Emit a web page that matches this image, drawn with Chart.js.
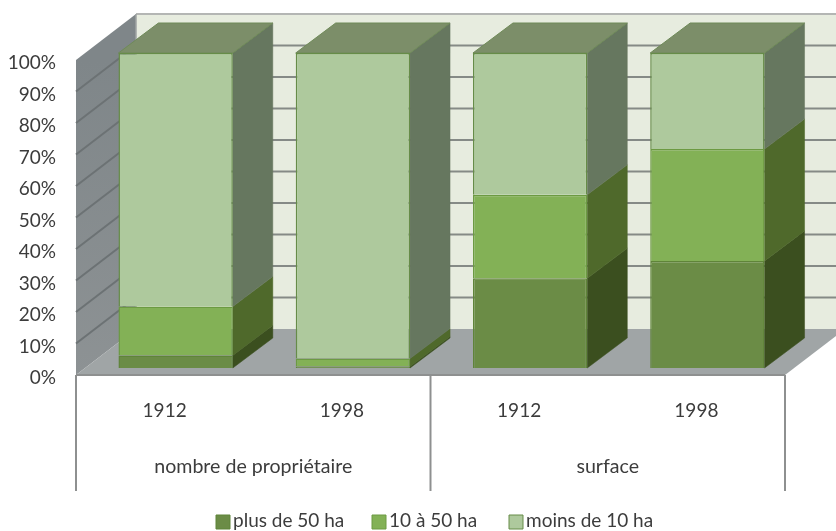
<!DOCTYPE html>
<html><head><meta charset="utf-8">
<style>html,body{margin:0;padding:0;background:#fff}canvas{display:block;filter:blur(0.4px)}</style>
<script src="https://cdn.jsdelivr.net/npm/chart.js@4"></script>
</head><body>
<canvas id="c" width="836" height="531"></canvas>
<script>
const categories = ['1912','1998','1912','1998'];
const groups = ['nombre de propriétaire','surface'];
const plus50 = [4, 0.5, 28.5, 34];
const de10a50 = [15.5, 2.5, 26.5, 35.5];
const moins10 = [80.5, 97, 45, 30.5];
const seriesNames = ['plus de 50 ha','10 à 50 ha','moins de 10 ha'];
const frontColors = ['#6b8c46','#83b156','#aec99d'];
const borderColors = ['#5f8439','#6c9a42','#668c48'];
const sideColors = ['#3b4f1f','#4f692b','#66775f'];
const topColor = '#7c8e69';

const FONT = 'Lato, sans-serif', TXT = '#3c3c3c';
const wallD = {x:60, y:-46};      // depth of the walls/floor
const barShift = {x:11, y:-7};    // bars sit a little behind the front plane
const barD = {x:40, y:-30};       // depth of a bar

function poly(ctx, pts, fill, stroke, lw){
  ctx.beginPath();
  pts.forEach((p,i)=> i?ctx.lineTo(p[0],p[1]):ctx.moveTo(p[0],p[1]));
  ctx.closePath();
  if(fill){ctx.fillStyle=fill;ctx.fill();}
  if(stroke){ctx.strokeStyle=stroke;ctx.lineWidth=lw||1;ctx.stroke();}
}

const scene = {
  id:'scene',
  beforeDatasetsDraw(chart){
    const {ctx, chartArea:a, scales:{x,y}} = chart;
    const l=a.left, r=a.right, t=a.top, b=a.bottom, dx=wallD.x, dy=wallD.y;
    ctx.save();
    // back wall
    poly(ctx,[[l+dx,t+dy],[r+dx,t+dy],[r+dx,b+dy],[l+dx,b+dy]],'#e7ecdf');
    // left wall
    const g=ctx.createLinearGradient(0,t,0,b);
    g.addColorStop(0,'#7f8689');g.addColorStop(1,'#8d9294');
    poly(ctx,[[l,b],[l+dx,b+dy],[l+dx,t+dy],[l,t]],g);
    // floor
    poly(ctx,[[l,b],[r,b],[r+dx,b+dy],[l+dx,b+dy]],'#a0a5a6');
    // gridlines on both walls
    y.ticks.forEach(tk=>{
      const py=y.getPixelForValue(tk.value);
      if(tk.value===0) return;
      ctx.lineWidth=2;
      if(tk.value!==100){
        ctx.strokeStyle='#6c7274';
        ctx.beginPath();ctx.moveTo(l,py);ctx.lineTo(l+dx,py+dy);ctx.stroke();
      }
      ctx.strokeStyle=tk.value===100?'#b4b6b4':'#858a86';
      ctx.beginPath();ctx.moveTo(l+dx,py+dy);ctx.lineTo(r+dx,py+dy);ctx.stroke();
    });
    // vertical back edge
    ctx.strokeStyle='#9fa3a3';ctx.lineWidth=1.5;
    ctx.beginPath();ctx.moveTo(l+dx,t+dy);ctx.lineTo(l+dx,b+dy);ctx.stroke();
    // front floor edge + group separators
    ctx.strokeStyle='#8e9090';ctx.lineWidth=2;
    ctx.beginPath();ctx.moveTo(l,b);ctx.lineTo(r,b);ctx.stroke();
    const lineBottom=b+116;
    const gw=(r-l)/groups.length;
    for(let i=0;i<=groups.length;i++){
      const lx=l+gw*i;
      ctx.beginPath();ctx.moveTo(lx,b);ctx.lineTo(lx,lineBottom);ctx.stroke();
    }
    ctx.fillStyle=TXT;ctx.font='19.6px '+FONT;ctx.textAlign='center';ctx.textBaseline='middle';
    groups.forEach((g2,i)=>ctx.fillText(g2,l+gw*(i+.5),b+92));
    // legend
    const legendX=[216,372,509];
    ctx.textAlign='left';ctx.font='19px '+FONT;
    seriesNames.forEach((n,i)=>{
      poly(ctx,[[legendX[i],515],[legendX[i]+14,515],[legendX[i]+14,529],[legendX[i],529]],frontColors[i],borderColors[i],1);
      ctx.fillStyle=TXT;ctx.fillText(n,legendX[i]+17,521);
    });
    ctx.restore();
    // 3D sides and tops of the bars, from the library's own bar elements
    const metas=chart.getSortedVisibleDatasetMetas();
    ctx.save();
    ctx.translate(barShift.x,barShift.y);
    metas.forEach((m,si)=>{
      m.data.forEach(el=>{
        const p=el.getProps(['x','y','base','width'],true);
        const R=p.x+p.width/2, L=p.x-p.width/2;
        poly(ctx,[[R,p.base],[R+barD.x,p.base+barD.y],[R+barD.x,p.y+barD.y],[R,p.y]],sideColors[si],sideColors[si],0.5);
        if(si===metas.length-1){
          poly(ctx,[[L,p.y],[R,p.y],[R+barD.x,p.y+barD.y],[L+barD.x,p.y+barD.y]],topColor,'#6f8a58',1);
        }
      });
    });
    // the shift stays active for the library's own front faces
  },
  afterDatasetsDraw(chart){ chart.ctx.restore(); }
};

new Chart(document.getElementById('c'),{
  type:'bar',
  data:{labels:categories,datasets:[
    {label:seriesNames[0],data:plus50,backgroundColor:frontColors[0],borderColor:borderColors[0],borderWidth:1.5,borderSkipped:'start'},
    {label:seriesNames[1],data:de10a50,backgroundColor:frontColors[1],borderColor:borderColors[1],borderWidth:1.5,borderSkipped:'start'},
    {label:seriesNames[2],data:moins10,backgroundColor:frontColors[2],borderColor:borderColors[2],borderWidth:1.5,borderSkipped:'start'}
  ]},
  options:{
    responsive:false,animation:false,
    layout:{padding:{top:60,right:51,bottom:0,left:0}},
    plugins:{legend:{display:false},tooltip:{enabled:false}},
    datasets:{bar:{categoryPercentage:1,barPercentage:0.645}},
    scales:{
      x:{stacked:true,grid:{display:false},border:{display:false},
         afterFit(s){s.height=156;},
         ticks:{color:TXT,font:{family:FONT,size:19},padding:16,maxRotation:0}},
      y:{stacked:true,min:0,max:100,grid:{display:false,drawTicks:false},border:{display:false},
         afterFit(s){s.width=76;},
         ticks:{stepSize:10,color:TXT,font:{family:FONT,size:19},padding:20,labelOffset:3,callback:v=>v+'%'}}
    }
  },
  plugins:[scene]
});
</script>
</body></html>
